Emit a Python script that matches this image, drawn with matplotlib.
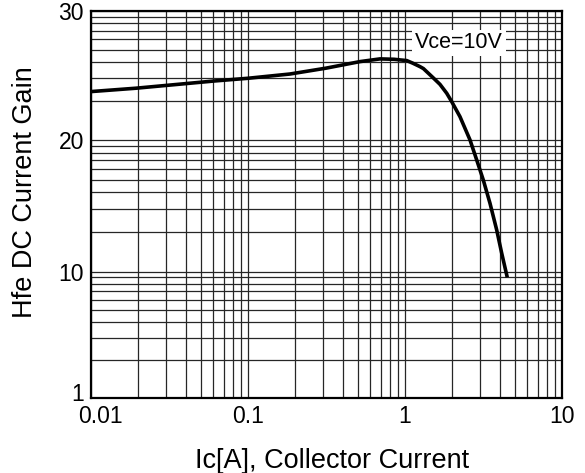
import numpy as np
import matplotlib
matplotlib.use('Agg')
import matplotlib.pyplot as plt
from matplotlib.ticker import FixedLocator, NullFormatter, LogLocator
from matplotlib.transforms import ScaledTranslation

plt.rcParams['font.family'] = ['Liberation Sans', 'DejaVu Sans']

# curve: Ic [A] vs hFE (Vce = 10 V)
ic = [0.01, 0.0193, 0.061, 0.10, 0.185, 0.313, 0.517, 0.693, 0.85, 1.025, 1.12,
      1.246, 1.31, 1.514, 1.67, 1.844, 1.984, 2.239, 2.594, 2.862, 3.152, 3.478,
      3.837, 4.13, 4.48]
hfe = [23.74, 24.0, 24.56, 24.77, 25.1, 25.55, 26.06, 26.27, 26.24, 26.14, 25.94,
       25.67, 25.52, 24.8, 24.3, 23.61, 22.96, 21.80, 20.0, 18.48, 16.96, 15.19,
       13.17, 11.40, 9.03]

x_ticks = [0.01, 0.1, 1, 10]
x_labels = ['0.01', '0.1', '1', '10']
y_ticks = [1, 10, 20, 30]
y_labels = ['1', '10', '20', '30']

# the y axis is log paper: 1..10 is a log decade, 10..20 and 20..30 each one "decade"
dec_pos = [0.0, 0.98, 2.0, 3.0]


def fwd(g):
    g = np.clip(np.asarray(g, dtype=float), 1e-6, None)
    u = np.where(g <= 10, np.log10(g), 1 + (g - 10) / 10.0)
    return np.interp(u, [0, 1, 2, 3], dec_pos)


def inv(p):
    u = np.interp(np.asarray(p, dtype=float), dec_pos, [0, 1, 2, 3])
    return np.where(u <= 1, 10 ** u, 10 + 10 * (u - 1))


def u_to_gain(u):
    return 10 ** u if u <= 1 else 10 + 10 * (u - 1)


fig = plt.figure(figsize=(5.85, 4.73), dpi=100)
ax = fig.add_axes([91 / 585, 1 - 398.3 / 473, 471 / 585, 387.6 / 473])

ax.set_xscale('log')
ax.set_yscale('function', functions=(fwd, inv))
ax.set_xlim(0.01, 10)
ax.set_ylim(1, 30)

ax.set_xticks(x_ticks, labels=x_labels)
ax.xaxis.set_minor_locator(LogLocator(base=10, subs=np.arange(2, 10)))
ax.xaxis.set_minor_formatter(NullFormatter())

ax.set_yticks(y_ticks, labels=y_labels)
minor_y = [u_to_gain(d + np.log10(k)) for d in range(3) for k in range(2, 10)]
ax.yaxis.set_minor_locator(FixedLocator(minor_y))
ax.yaxis.set_minor_formatter(NullFormatter())

ax.grid(True, which='both', color='0.15', linewidth=0.9)
ax.set_axisbelow(True)
ax.tick_params(which='both', length=0)
ax.tick_params(axis='x', pad=5, labelsize=16.5)
ax.tick_params(axis='y', pad=5, labelsize=16.5)
for s in ax.spines.values():
    s.set_linewidth(1.6)
    s.set_color('black')

ax.plot(ic, hfe, color='black', linewidth=2.6, solid_capstyle='butt', zorder=3)

ax.text(2.21, 27.5, 'Vce=10V', fontsize=15.5, ha='center', va='center', zorder=4,
        bbox=dict(facecolor='white', edgecolor='none', pad=2))

# corner labels nudged like the original
xl = ax.get_xticklabels()
xl[0].set_transform(xl[0].get_transform() + ScaledTranslation(9 / 100, 0, fig.dpi_scale_trans))
yl = ax.get_yticklabels()
yl[0].set_transform(yl[0].get_transform() + ScaledTranslation(0, 6 / 100, fig.dpi_scale_trans))

fig.text(331.7 / 585, 1 - 468.3 / 473, 'Ic[A], Collector Current', fontsize=19.5,
         ha='center', va='baseline')
fig.text(25 / 585, 1 - 192 / 473, 'Hfe DC Current Gain', fontsize=19.5,
         ha='center', va='center', rotation=90)

fig.savefig('out.png', dpi=100)
